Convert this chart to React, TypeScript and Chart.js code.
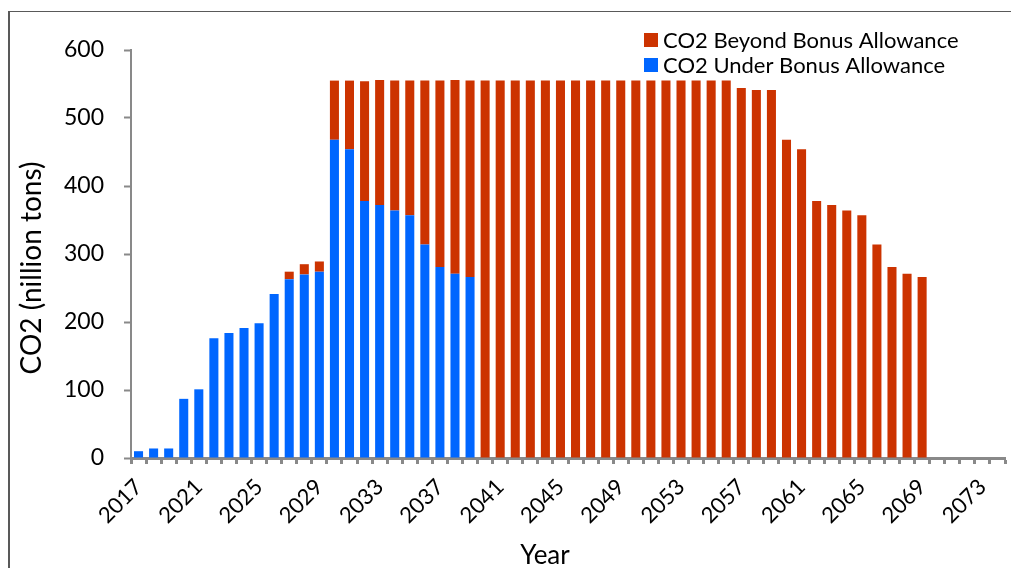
import React, { useEffect, useRef } from 'react';
import { Chart, registerables } from 'chart.js';

Chart.register(...registerables);

// Years on the category axis (2017 – 2074)
const years: string[] = Array.from({ length: 58 }, (_, i) => String(2017 + i));

// Every fourth year carries a printed label
const labelEvery = 4;

// CO2 kept under the bonus allowance, million tons per year (2017 – 2074)
const underAllowance: number[] = [
  10, 14, 14, 87, 101, 176, 184, 191, 198, 241,
  263, 270, 274, 468, 454, 378, 372, 364, 357, 314,
  281, 271, 266, 0, 0, 0, 0, 0, 0, 0,
  0, 0, 0, 0, 0, 0, 0, 0, 0, 0,
  0, 0, 0, 0, 0, 0, 0, 0, 0, 0,
  0, 0, 0, 0, 0, 0, 0, 0,
];

// CO2 beyond the bonus allowance, million tons per year (2017 – 2074)
const beyondAllowance: number[] = [
  0, 0, 0, 0, 0, 0, 0, 0, 0, 0,
  11, 15, 15, 87, 101, 176, 184, 191, 198, 241,
  274, 285, 289, 555, 555, 555, 555, 555, 555, 555,
  555, 555, 555, 555, 555, 555, 555, 555, 555, 555,
  544, 541, 541, 468, 454, 378, 372, 364, 357, 314,
  281, 271, 266, 0, 0, 0, 0, 0,
];

const yTicks = { min: 0, max: 600, step: 100 };

const xTitle = 'Year';
const yTitle = 'CO2 (nillion tons)';

const BLUE = '#0066ff';
const RED = '#cc3300';
const AXIS = '#898989';
const FONT = 'Lato';

// Legend box in the top-right corner plus both axis captions
const captionsPlugin = {
  id: 'captions',
  afterDraw(chart: any) {
    const { ctx, chartArea } = chart;
    const ds = chart.data.datasets;
    const items = [ds[1], ds[0]];
    ctx.save();
    ctx.font = `22px ${FONT}`;
    ctx.textBaseline = 'middle';
    ctx.textAlign = 'left';
    const boxX = chartArea.right - 361;
    items.forEach((d: any, i: number) => {
      const cy = chartArea.top - 10 + i * 25;
      ctx.fillStyle = d.backgroundColor;
      ctx.fillRect(boxX, cy - 7, 14, 14);
      ctx.fillStyle = '#000';
      ctx.fillText(d.label, boxX + 19, cy + 1);
    });

    ctx.font = `26px ${FONT}`;
    ctx.textAlign = 'center';
    ctx.fillText(xTitle, (chartArea.left + chartArea.right) / 2 - 23, chartArea.bottom + 98);

    ctx.translate(24, (chartArea.top + chartArea.bottom) / 2 + 14);
    ctx.rotate(-Math.PI / 2);
    ctx.font = `28px ${FONT}`;
    ctx.fillText(yTitle, 0, 0);
    ctx.restore();
  },
};

export default function App() {
  const canvasRef = useRef<HTMLCanvasElement | null>(null);

  useEffect(() => {
    document.documentElement.style.overflow = 'hidden';
    document.body.style.overflow = 'hidden';
    let chart: Chart | null = null;
    let cancelled = false;

    const build = () => {
      if (cancelled || !canvasRef.current) return;
      chart = new Chart(canvasRef.current, {
        type: 'bar',
        data: {
          labels: years,
          datasets: [
            {
              label: 'CO2 Under Bonus Allowance',
              data: underAllowance,
              backgroundColor: BLUE,
              stack: 'co2',
              borderWidth: 0,
            },
            {
              label: 'CO2 Beyond Bonus Allowance',
              data: beyondAllowance,
              backgroundColor: RED,
              stack: 'co2',
              borderWidth: 0,
            },
          ],
        },
        options: {
          responsive: false,
          animation: false,
          layout: { padding: { top: 42, right: 14, left: 0, bottom: 0 } },
          datasets: { bar: { categoryPercentage: 1, barPercentage: 0.6 } },
          plugins: {
            legend: { display: false },
            tooltip: { enabled: false },
          },
          scales: {
            x: {
              stacked: true,
              afterFit: (scale: any) => {
                scale.height = 150;
                scale.paddingLeft = 0;
                scale.paddingRight = 0;
              },
              grid: {
                display: true,
                offset: true,
                drawOnChartArea: false,
                drawTicks: true,
                tickLength: 6,
                tickWidth: 3,
                tickColor: AXIS,
              },
              border: { display: true, color: AXIS, width: 3 },
              ticks: {
                autoSkip: false,
                maxRotation: 45,
                minRotation: 45,
                padding: 10,
                color: '#000',
                font: { family: FONT, size: 22 },
                callback: (_v: any, i: number) => (i % labelEvery === 0 ? years[i] : ''),
              },
            },
            y: {
              stacked: true,
              min: yTicks.min,
              max: yTicks.max,
              afterFit: (scale: any) => {
                scale.width = 123;
                scale.paddingTop = 0;
                scale.paddingBottom = 0;
              },
              grid: {
                display: true,
                drawOnChartArea: false,
                drawTicks: true,
                tickLength: 7,
                tickWidth: 2,
                tickColor: AXIS,
              },
              border: { display: true, color: AXIS, width: 2 },
              ticks: {
                stepSize: yTicks.step,
                padding: 20,
                color: '#000',
                font: { family: FONT, size: 23 },
              },
            },
          },
        },
        plugins: [captionsPlugin],
      });
    };

    const fontsReady = (document as any).fonts
      ? Promise.all([
          (document as any).fonts.load(`22px ${FONT}`),
          (document as any).fonts.load(`28px ${FONT}`),
        ]).catch(() => undefined)
      : Promise.resolve();
    fontsReady.then(build);

    return () => {
      cancelled = true;
      if (chart) chart.destroy();
    };
  }, []);

  return (
    <div
      style={{
        position: 'relative',
        width: 1011,
        height: 560,
        overflow: 'hidden',
      }}
    >
      <div
        style={{
          position: 'absolute',
          left: 0,
          top: 3,
          width: 1100,
          height: 700,
          borderLeft: '2px solid #595959',
          borderTop: '1px solid #595959',
          boxSizing: 'border-box',
        }}
      />
      <canvas
        ref={canvasRef}
        width={1011}
        height={600}
        style={{ position: 'absolute', left: 0, top: 0, width: 1011, height: 600, display: 'block' }}
      />
    </div>
  );
}
